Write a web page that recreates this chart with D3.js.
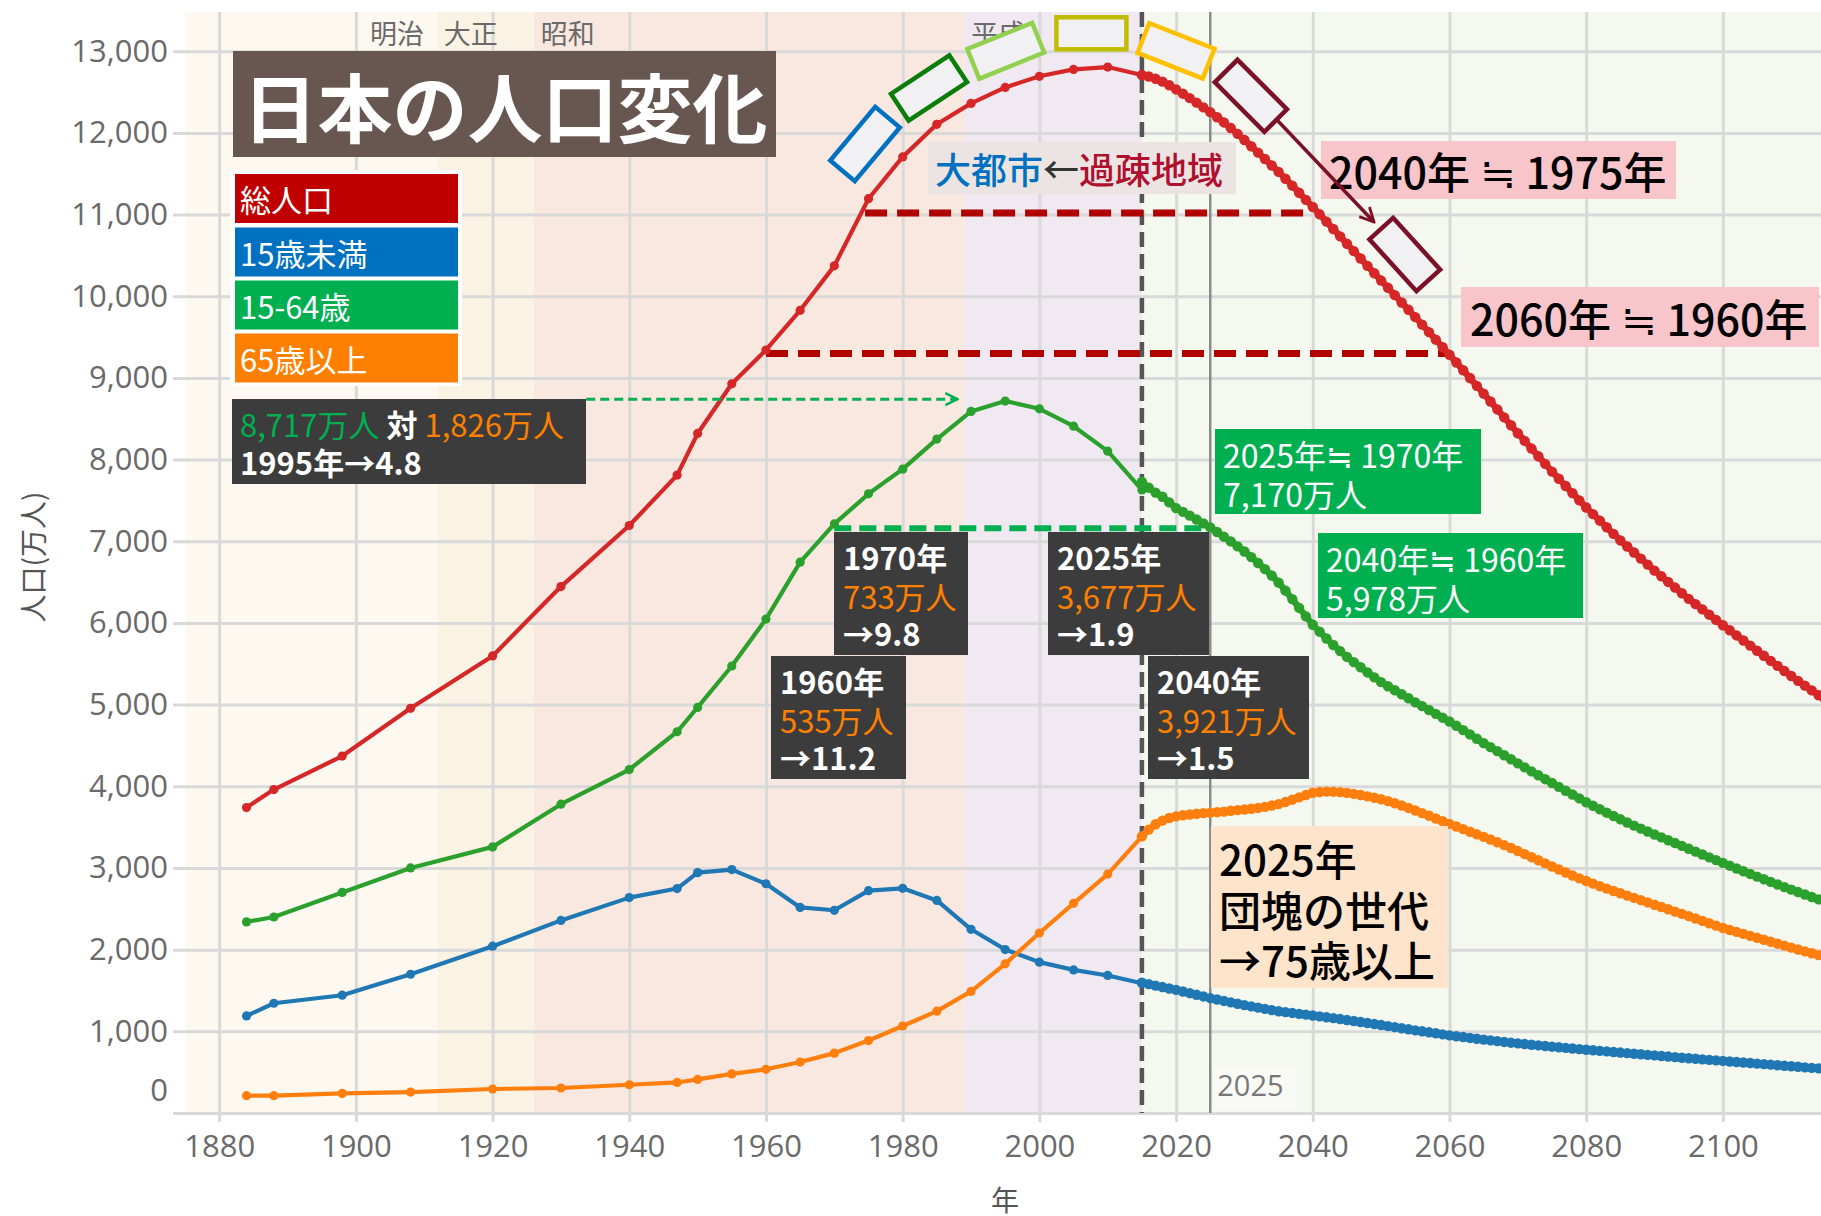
<!DOCTYPE html>
<html>
<head>
<meta charset="utf-8">
<script src="https://cdn.jsdelivr.net/npm/d3@7"></script>
<style>
  body { margin: 0; background: #fff; }
  svg { display: block; }
</style>
</head>
<body>
<div id="chart"></div>
<script>
// ---- Data (万人) ----
// census years, total / under 15 / 15-64 / 65+
const histYears    = [1884, 1888, 1898, 1908, 1920, 1930, 1940, 1947, 1950, 1955, 1960, 1965, 1970, 1975, 1980, 1985, 1990, 1995, 2000, 2005, 2010, 2015];
const histTotal    = [3740, 3960, 4370, 4955, 5596, 6445, 7193, 7810, 8320, 8928, 9342, 9828, 10372, 11194, 11706, 12105, 12361, 12557, 12693, 12777, 12806, 12709];
const histUnder15  = [1188, 1344, 1442, 1699, 2042, 2358, 2637, 2748, 2943, 2980, 2807, 2517, 2482, 2722, 2751, 2603, 2249, 2001, 1847, 1752, 1684, 1589];
const histWorking  = [2340, 2400, 2700, 3000, 3258, 3781, 4205, 4668, 4966, 5473, 6047, 6744, 7212, 7581, 7883, 8251, 8590, 8717, 8622, 8409, 8103, 7629];
const histElderly  = [212, 212, 240, 256, 294, 306, 346, 374, 411, 479, 535, 624, 733, 887, 1065, 1247, 1489, 1826, 2204, 2567, 2925, 3387];

// projection, one value per year from 2015 to 2115
const projStartYear = 2015;
const projTotal = [
  12709,
  12690, 12662, 12627, 12583, 12532,
  12480, 12425, 12370, 12312, 12254,
  12192, 12128, 12060, 11988, 11913,
  11836, 11758, 11680, 11601, 11522,
  11439, 11354, 11267, 11180, 11092,
  11003, 10913, 10823, 10733, 10642,
  10552, 10462, 10372, 10282, 10192,
  10103, 10013, 9923, 9834, 9744,
  9652, 9560, 9468, 9376, 9284,
  9189, 9094, 8999, 8903, 8808,
  8711, 8614, 8517, 8420, 8323,
  8229, 8135, 8041, 7947, 7853,
  7765, 7677, 7589, 7501, 7413,
  7332, 7252, 7171, 7091, 7010,
  6936, 6862, 6788, 6714, 6640,
  6571, 6502, 6433, 6364, 6295,
  6230, 6166, 6101, 6037, 5972,
  5910, 5847, 5785, 5722, 5660,
  5598, 5536, 5474, 5412, 5350,
  5291, 5232, 5174, 5115, 5056
];
const projUnder15 = [
  1595,
  1578, 1559, 1542, 1524, 1507,
  1487, 1467, 1447, 1427, 1407,
  1389, 1372, 1355, 1338, 1321,
  1305, 1290, 1275, 1260, 1246,
  1235, 1225, 1214, 1204, 1194,
  1183, 1172, 1161, 1150, 1138,
  1126, 1114, 1102, 1089, 1077,
  1064, 1051, 1038, 1025, 1012,
  1000, 988, 976, 963, 951,
  940, 930, 919, 909, 898,
  889, 880, 870, 861, 852,
  844, 836, 828, 820, 812,
  805, 797, 790, 782, 775,
  768, 761, 754, 747, 740,
  733, 726, 719, 712, 705,
  698, 691, 684, 677, 670,
  664, 657, 651, 644, 638,
  631, 625, 618, 612, 605,
  598, 592, 585, 579, 572,
  566, 559, 553, 546, 540
];
const projWorking = [
  7728,
  7656, 7596, 7545, 7476, 7406,
  7360, 7314, 7266, 7219, 7170,
  7114, 7056, 6998, 6937, 6875,
  6806, 6734, 6659, 6580, 6494,
  6395, 6292, 6185, 6080, 5978,
  5893, 5810, 5730, 5655, 5584,
  5520, 5458, 5394, 5334, 5275,
  5225, 5176, 5127, 5078, 5028,
  4981, 4934, 4887, 4840, 4793,
  4741, 4688, 4635, 4582, 4529,
  4479, 4430, 4380, 4331, 4281,
  4232, 4183, 4135, 4087, 4040,
  3993, 3946, 3899, 3852, 3805,
  3762, 3719, 3677, 3636, 3596,
  3557, 3519, 3482, 3446, 3410,
  3375, 3340, 3305, 3270, 3235,
  3200, 3165, 3130, 3096, 3062,
  3028, 2994, 2960, 2927, 2894,
  2862, 2830, 2798, 2766, 2735,
  2705, 2675, 2645, 2615, 2586
];
const projElderly = [
  3387,
  3470, 3535, 3580, 3612, 3632,
  3645, 3655, 3664, 3671, 3677,
  3683, 3690, 3700, 3708, 3716,
  3725, 3735, 3748, 3764, 3782,
  3808, 3836, 3864, 3893, 3921,
  3930, 3935, 3934, 3928, 3919,
  3907, 3893, 3877, 3860, 3841,
  3818, 3793, 3765, 3735, 3704,
  3672, 3640, 3606, 3573, 3540,
  3508, 3476, 3444, 3412, 3381,
  3348, 3315, 3280, 3244, 3207,
  3170, 3132, 3094, 3056, 3018,
  2981, 2944, 2908, 2873, 2840,
  2808, 2777, 2747, 2718, 2690,
  2662, 2634, 2606, 2578, 2550,
  2522, 2494, 2466, 2438, 2410,
  2381, 2352, 2323, 2294, 2265,
  2241, 2217, 2193, 2169, 2145,
  2121, 2097, 2073, 2049, 2025,
  2002, 1979, 1956, 1933, 1910
];

const seriesNames = ["総人口", "15歳未満", "15-64歳", "65歳以上"];
const xTicks = [1880, 1900, 1920, 1940, 1960, 1980, 2000, 2020, 2040, 2060, 2080, 2100];
const yTicks = [0, 1000, 2000, 3000, 4000, 5000, 6000, 7000, 8000, 9000, 10000, 11000, 12000, 13000];

// eras: name, start, end, label year
const eraNames  = ["明治", "大正", "昭和", "平成", "推計"];
const eraStarts = [1875, 1912, 1926, 1989, 2015];
const eraEnds   = [1912, 1926, 1989, 2015, 2115];
const eraLabelYears = [1906, 1916.8, 1931, 1994, null];

// ---- Styles ----
const lineColors   = ["#d62728", "#1f77b4", "#2ca02c", "#ff7f0e"];
const legendColors = ["#c00000", "#0070c0", "#00b050", "#ff7f00"];
const eraColors    = ["#fdf9f1", "#faf3e3", "#f9e8df", "#f1e9f2", "#f5f8ef"];
const cjk = "'Noto Sans CJK JP', 'Noto Sans', sans-serif";
const latin = "'Open Sans', 'Noto Sans', sans-serif";

const W = 1821, H = 1216;
const plot = { left: 184, right: 1821, top: 12, bottom: 1113 };

const svg = d3.select("#chart").append("svg")
  .attr("width", W).attr("height", H);

const x = d3.scaleLinear().domain([1875, 2114.5]).range([185, 1822]);
const y = d3.scaleLinear().domain([0, 13480]).range([plot.bottom, plot.top]);

// era background bands
svg.append("g").selectAll("rect")
  .data(eraNames)
  .enter().append("rect")
  .attr("x", (d, i) => Math.max(plot.left, x(eraStarts[i])))
  .attr("width", (d, i) => Math.min(plot.right, x(eraEnds[i])) - Math.max(plot.left, x(eraStarts[i])))
  .attr("y", plot.top)
  .attr("height", plot.bottom - plot.top)
  .attr("fill", (d, i) => eraColors[i]);

// grid + axes
const xAxis = svg.append("g")
  .attr("transform", `translate(0,${plot.bottom})`)
  .call(d3.axisBottom(x).tickValues(xTicks).tickFormat(d3.format("d"))
    .tickSize(-(plot.bottom - plot.top)).tickPadding(22));
xAxis.select(".domain").remove();
xAxis.selectAll("line").attr("stroke", "#d9d9d9").attr("stroke-width", 3).attr("y1", 9);
xAxis.selectAll("text").attr("fill", "#6a6a6a")
  .style("font-family", latin).style("font-size", "31px");

const yAxis = svg.append("g")
  .attr("transform", `translate(${plot.left},0)`)
  .call(d3.axisLeft(y).tickValues(yTicks).tickFormat(d3.format(","))
    .tickSize(-(plot.right - plot.left)).tickPadding(16));
yAxis.select(".domain").remove();
yAxis.selectAll("line").attr("stroke", "#d9d9d9").attr("stroke-width", 3).attr("x1", -11);
yAxis.selectAll("text").attr("fill", "#6a6a6a")
  .style("font-family", latin).style("font-size", "31px")
  .attr("dy", d => d === 0 ? "-0.4em" : "0.32em");

// era labels
svg.append("g").selectAll("text")
  .data(eraNames.filter((d, i) => eraLabelYears[i] !== null))
  .enter().append("text")
  .attr("x", (d, i) => x(eraLabelYears[i]))
  .attr("y", 32)
  .attr("text-anchor", "middle")
  .attr("dominant-baseline", "central")
  .attr("fill", "#6a6a6a")
  .style("font-family", cjk).style("font-size", "27px")
  .text(d => d);

// 2015 dashed divider and 2025 marker line
svg.append("line")
  .attr("x1", x(2015)).attr("x2", x(2015))
  .attr("y1", plot.top).attr("y2", plot.bottom)
  .attr("stroke", "#555").attr("stroke-width", 4.5)
  .attr("stroke-dasharray", "15,7");
svg.append("line")
  .attr("x1", x(2025)).attr("x2", x(2025))
  .attr("y1", plot.top).attr("y2", plot.bottom)
  .attr("stroke", "#8c8c8c").attr("stroke-width", 2.5);
svg.append("rect")
  .attr("x", x(2025) + 3).attr("y", 1067).attr("width", 82).attr("height", 43)
  .attr("fill", "#f9faf5");
svg.append("text")
  .attr("x", x(2025) + 7).attr("y", 1084)
  .attr("dominant-baseline", "central")
  .attr("fill", "#777")
  .style("font-family", latin).style("font-size", "29px")
  .text("2025");

// reference dashed lines
const refLines = [
  { from: 1974.5, to: 2040,   value: 11020, color: "#b00000", width: 7, dash: "22,10" },
  { from: 1960,   to: 2059.5, value: 9300,  color: "#b00000", width: 7, dash: "22,10" },
  { from: 1970,   to: 2025,   value: 7160,  color: "#00b050", width: 6, dash: "17,8" }
];
svg.append("g").selectAll("line")
  .data(refLines)
  .enter().append("line")
  .attr("x1", d => x(d.from)).attr("x2", d => x(d.to))
  .attr("y1", d => y(d.value)).attr("y2", d => y(d.value))
  .attr("stroke", d => d.color).attr("stroke-width", d => d.width)
  .attr("stroke-dasharray", d => d.dash);

// ---- Series ----
const histSets = [histTotal, histUnder15, histWorking, histElderly];
const projSets = [projTotal, projUnder15, projWorking, projElderly];
const line = d3.line().x(d => x(d.year)).y(d => y(d.value));

seriesNames.forEach((name, s) => {
  const hist = histYears.map((yr, i) => ({ year: yr, value: histSets[s][i] }));
  const proj = projSets[s].map((v, i) => ({ year: projStartYear + i, value: v }));
  const g = svg.append("g").attr("class", "series");
  [hist, proj].forEach((pts, k) => {
    g.append("path")
      .datum(pts)
      .attr("d", line)
      .attr("fill", "none")
      .attr("stroke", lineColors[s])
      .attr("stroke-width", k === 0 ? 4.2 : 6.5)
      .attr("stroke-linejoin", "round");
    g.selectAll(null)
      .data(pts)
      .enter().append("circle")
      .attr("cx", d => x(d.year))
      .attr("cy", d => y(d.value))
      .attr("r", k === 0 ? 4.6 : 5.2)
      .attr("fill", lineColors[s]);
  });
});

// green arrow toward the 1995 peak
const defs = svg.append("defs");
defs.append("marker").attr("id", "arrowGreen")
  .attr("viewBox", "0 0 10 10").attr("refX", 9).attr("refY", 5)
  .attr("markerWidth", 5).attr("markerHeight", 5).attr("orient", "auto")
  .append("path").attr("d", "M1,1 L9,5 L1,9").attr("fill", "none")
  .attr("stroke", "#00b050").attr("stroke-width", 1.6);
defs.append("marker").attr("id", "arrowRed")
  .attr("viewBox", "0 0 10 10").attr("refX", 9).attr("refY", 5)
  .attr("markerWidth", 5).attr("markerHeight", 5).attr("orient", "auto")
  .append("path").attr("d", "M1,1 L9,5 L1,9").attr("fill", "none")
  .attr("stroke", "#7b1126").attr("stroke-width", 1.6);

svg.append("line")
  .attr("x1", x(1933.7)).attr("x2", x(1988))
  .attr("y1", y(8740)).attr("y2", y(8740))
  .attr("stroke", "#00b050").attr("stroke-width", 3)
  .attr("stroke-dasharray", "9,5")
  .attr("marker-end", "url(#arrowGreen)");

// ---- Annotations ----
const ann = svg.append("g").attr("class", "annotations");

function box(x0, y0, x1, y1, fill) {
  return ann.append("rect")
    .attr("x", x0).attr("y", y0)
    .attr("width", x1 - x0).attr("height", y1 - y0)
    .attr("fill", fill);
}
function richText(tx, ty, parts, size, weight) {
  const t = ann.append("text")
    .attr("x", tx).attr("y", ty)
    .attr("dominant-baseline", "central")
    .style("font-family", cjk)
    .style("font-size", size + "px");
  parts.forEach(p => {
    t.append("tspan")
      .attr("dominant-baseline", "central")
      .attr("fill", p[1])
      .style("font-weight", p[2] || weight || 400)
      .text(p[0]);
  });
  return t;
}

// title
box(233, 51, 776, 157, "#675750");
ann.append("text")
  .attr("x", 505).attr("y", 104)
  .attr("text-anchor", "middle")
  .attr("dominant-baseline", "central")
  .attr("fill", "#fff")
  .style("font-family", cjk).style("font-size", "75px").style("font-weight", 700)
  .text("日本の人口変化");

// legend
box(230, 170, 462, 386, "#fff");
const legendTop = [174, 227.5, 280.5, 333.5];
seriesNames.forEach((name, i) => {
  box(235, legendTop[i], 458, legendTop[i] + 49, legendColors[i]);
  richText(240, legendTop[i] + 24, [[name, "#fff"]], 31, 400);
});

// 1995 ratio box
box(232, 399, 586, 484, "#3c3c3c");
richText(240, 423, [["8,717万人", "#00b050"], [" 対 ", "#fff", 700], ["1,826万人", "#ff8000"]], 31, 400);
richText(240, 461, [["1995年→4.8", "#fff"]], 31, 700);

// dependency ratio boxes
const darkBoxes = [
  { x0: 834,  y0: 532, x1: 968,  y1: 655, lines: ["1970年", "733万人", "→9.8"] },
  { x0: 1048, y0: 532, x1: 1209, y1: 655, lines: ["2025年", "3,677万人", "→1.9"] },
  { x0: 771,  y0: 656, x1: 906,  y1: 779, lines: ["1960年", "535万人", "→11.2"] },
  { x0: 1148, y0: 656, x1: 1309, y1: 779, lines: ["2040年", "3,921万人", "→1.5"] }
];
darkBoxes.forEach(b => {
  box(b.x0, b.y0, b.x1, b.y1, "#3c3c3c");
  richText(b.x0 + 9, b.y0 + 24, [[b.lines[0], "#fff"]], 31, 700);
  richText(b.x0 + 9, b.y0 + 63, [[b.lines[1], "#ff8000"]], 31, 400);
  richText(b.x0 + 9, b.y0 + 100, [[b.lines[2], "#fff"]], 31, 700);
});

// working-age comparison boxes
box(1215, 429, 1481, 514, "#00b050");
richText(1223, 454, [["2025年≒ 1970年", "#fff"]], 32, 400);
richText(1223, 493, [["7,170万人", "#fff"]], 32, 400);
box(1318, 533, 1583, 618, "#00b050");
richText(1326, 558, [["2040年≒ 1960年", "#fff"]], 32, 400);
richText(1326, 597, [["5,978万人", "#fff"]], 32, 400);

// total population comparisons
box(1321, 141, 1676, 199, "#f8c5ca");
richText(1329, 170, [["2040年 ≒ 1975年", "#000"]], 43, 500);
box(1461, 287, 1819, 347, "#f8c5ca");
richText(1470, 317, [["2060年 ≒ 1960年", "#000"]], 43, 500);

// 団塊の世代
box(1211, 826, 1448, 988, "#fde4cb");
richText(1219, 857, [["2025年", "#000"]], 42, 500);
richText(1219, 908, [["団塊の世代", "#000"]], 42, 500);
richText(1219, 958, [["→75歳以上", "#000"]], 42, 500);

// 大都市←過疎地域
box(928, 142, 1236, 194, "#ebe4e2");
richText(935, 168, [["大都市", "#0070c0"], ["←", "#333"], ["過疎地域", "#b01030"]], 36, 500);

// generation blocks along the top of the curve
const blocks = [
  { cx: 865,    cy: 144,   angle: -50,  color: "#0070c0" },
  { cx: 929,    cy: 88,    angle: -33.5, color: "#0a7d0a" },
  { cx: 1005.7, cy: 50.8,  angle: -22,  color: "#92d050" },
  { cx: 1091.4, cy: 33.3,  angle: 0,    color: "#c0bc00" },
  { cx: 1176,   cy: 50.8,  angle: 21.5, color: "#ffc000" },
  { cx: 1250.9, cy: 95.8,  angle: 45,   color: "#7b1126" },
  { cx: 1404.8, cy: 254.5, angle: 47.8, color: "#7b1126" }
];
ann.append("line")
  .attr("x1", 1278).attr("y1", 121).attr("x2", 1374).attr("y2", 222)
  .attr("stroke", "#7b1126").attr("stroke-width", 3.5)
  .attr("marker-end", "url(#arrowRed)");
blocks.forEach(b => {
  ann.append("rect")
    .attr("transform", `translate(${b.cx},${b.cy}) rotate(${b.angle})`)
    .attr("x", -35).attr("y", -16)
    .attr("width", 70).attr("height", 32)
    .attr("fill", "#f1f1f3")
    .attr("stroke", b.color).attr("stroke-width", 4.5);
});

// axis titles
svg.append("text")
  .attr("transform", "translate(32,557) rotate(-90)")
  .attr("text-anchor", "middle")
  .attr("dominant-baseline", "central")
  .attr("fill", "#555")
  .style("font-family", cjk).style("font-size", "28px")
  .text("人口(万人)");
svg.append("text")
  .attr("x", 1005).attr("y", 1199)
  .attr("text-anchor", "middle")
  .attr("dominant-baseline", "central")
  .attr("fill", "#555")
  .style("font-family", cjk).style("font-size", "28px")
  .text("年");
</script>
</body>
</html>
